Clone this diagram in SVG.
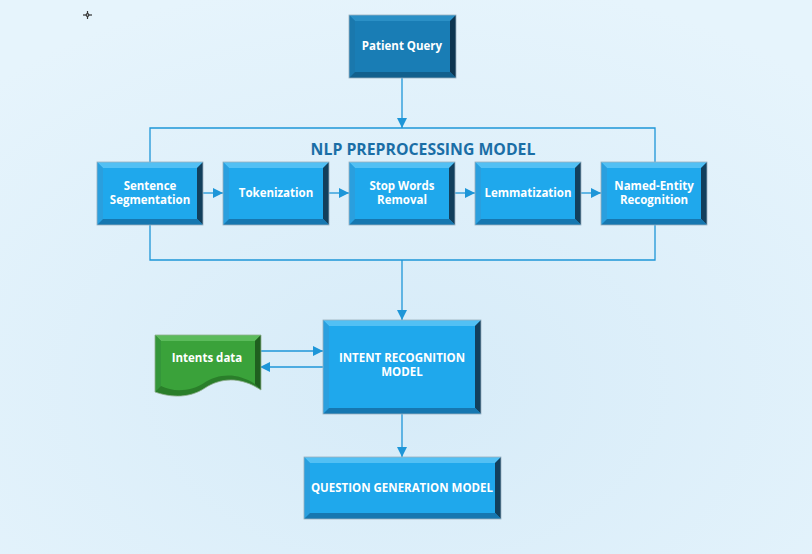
<svg xmlns="http://www.w3.org/2000/svg" width="812" height="554" viewBox="0 0 812 554">
<defs>
<radialGradient id="bg" cx="0.5" cy="0.7" r="0.75">
<stop offset="0" stop-color="#d6ebf8"/>
<stop offset="1" stop-color="#e6f4fc"/>
</radialGradient>
<marker id="ah" viewBox="0 0 10 10" refX="10" refY="5" markerWidth="10" markerHeight="10" markerUnits="userSpaceOnUse" orient="auto">
<path d="M0,0 L10,5 L0,10 z" fill="#1e96d8"/>
</marker>
<style>
.ln{fill:none;stroke:#1e96d8;stroke-width:1.3}
.c{fill:#1fa8ec}
.t{fill:#52c0f4}
.l{fill:#2a9fde}
.r{fill:#123f5c}
.b{fill:#1677b0}
.o{fill:none;stroke:#9bb0bd;stroke-width:0.8}
.pc{fill:#197db5}
.pt{fill:#2b90c6}
.pl{fill:#1a78ad}
.pr{fill:#0d3550}
.pb{fill:#12608d}
.gc{fill:#3aa23a}
.gt{fill:#5bbb5b}
.gr{fill:#1f5f1f}
.gb{fill:#2a7e2a}
.tx{font-family:"Open Sans","Liberation Sans",sans-serif;font-weight:bold;font-size:11.5px;fill:#ffffff;text-anchor:middle}
.ti{font-family:"Open Sans","Liberation Sans",sans-serif;font-weight:bold;font-size:15.8px;fill:#1a6ea6;text-anchor:middle}
</style>
</defs>
<rect width="812" height="554" fill="url(#bg)"/>
<g id="cursor" stroke="#333" stroke-width="1.2" fill="none">
<line x1="83" y1="15" x2="86" y2="15"/><line x1="89" y1="15" x2="92" y2="15"/>
<line x1="87.5" y1="11" x2="87.5" y2="13.5"/><line x1="87.5" y1="16.5" x2="87.5" y2="19"/>
<circle cx="87.5" cy="15" r="1.3"/>
</g>
<g id="connectors">
<path class="ln" d="M150,162 V128 H655 V162"/>
<path class="ln" d="M150,225 V260 H655 V225"/>
<line class="ln" x1="402" y1="78" x2="402" y2="128" marker-end="url(#ah)"/>
<line class="ln" x1="202" y1="193" x2="223" y2="193" marker-end="url(#ah)"/>
<line class="ln" x1="328" y1="193" x2="349" y2="193" marker-end="url(#ah)"/>
<line class="ln" x1="454" y1="193" x2="475" y2="193" marker-end="url(#ah)"/>
<line class="ln" x1="580" y1="193" x2="601" y2="193" marker-end="url(#ah)"/>
<line class="ln" x1="402" y1="260" x2="402" y2="320" marker-end="url(#ah)"/>
<line class="ln" x1="260" y1="351" x2="323" y2="351" marker-end="url(#ah)"/>
<line class="ln" x1="323" y1="367" x2="260" y2="367" marker-end="url(#ah)"/>
<line class="ln" x1="402" y1="414" x2="402" y2="457" marker-end="url(#ah)"/>
</g>
<text class="ti" x="423" y="155">NLP PREPROCESSING MODEL</text>
<g id="patient-query">
<rect class="pc" x="349" y="15" width="107" height="63"/>
<path class="pt" d="M349,15 H456 L450,21 H355 z"/>
<path class="pl" d="M349,15 L355,21 V72 L349,78 z"/>
<path class="pr" d="M456,15 V78 L450,72 V21 z"/>
<path class="pb" d="M349,78 H456 L450,72 H355 z"/>
<rect class="o" x="349" y="15" width="107" height="63"/>
<text class="tx" x="402" y="50">Patient Query</text>
</g>
<g id="sentence-segmentation">
<rect class="c" x="97" y="162" width="106" height="63"/>
<path class="t" d="M97,162 H203 L197,168 H103 z"/>
<path class="l" d="M97,162 L103,168 V219 L97,225 z"/>
<path class="r" d="M203,162 V225 L197,219 V168 z"/>
<path class="b" d="M97,225 H203 L197,219 H103 z"/>
<rect class="o" x="97" y="162" width="106" height="63"/>
<text class="tx" x="150" y="190">Sentence</text>
<text class="tx" x="150" y="204">Segmentation</text>
</g>
<g id="tokenization">
<rect class="c" x="223" y="162" width="106" height="63"/>
<path class="t" d="M223,162 H329 L323,168 H229 z"/>
<path class="l" d="M223,162 L229,168 V219 L223,225 z"/>
<path class="r" d="M329,162 V225 L323,219 V168 z"/>
<path class="b" d="M223,225 H329 L323,219 H229 z"/>
<rect class="o" x="223" y="162" width="106" height="63"/>
<text class="tx" x="276" y="197">Tokenization</text>
</g>
<g id="stop-words-removal">
<rect class="c" x="349" y="162" width="106" height="63"/>
<path class="t" d="M349,162 H455 L449,168 H355 z"/>
<path class="l" d="M349,162 L355,168 V219 L349,225 z"/>
<path class="r" d="M455,162 V225 L449,219 V168 z"/>
<path class="b" d="M349,225 H455 L449,219 H355 z"/>
<rect class="o" x="349" y="162" width="106" height="63"/>
<text class="tx" x="402" y="190">Stop Words</text>
<text class="tx" x="402" y="204">Removal</text>
</g>
<g id="lemmatization">
<rect class="c" x="475" y="162" width="106" height="63"/>
<path class="t" d="M475,162 H581 L575,168 H481 z"/>
<path class="l" d="M475,162 L481,168 V219 L475,225 z"/>
<path class="r" d="M581,162 V225 L575,219 V168 z"/>
<path class="b" d="M475,225 H581 L575,219 H481 z"/>
<rect class="o" x="475" y="162" width="106" height="63"/>
<text class="tx" x="528" y="197">Lemmatization</text>
</g>
<g id="named-entity-recognition">
<rect class="c" x="601" y="162" width="106" height="63"/>
<path class="t" d="M601,162 H707 L701,168 H607 z"/>
<path class="l" d="M601,162 L607,168 V219 L601,225 z"/>
<path class="r" d="M707,162 V225 L701,219 V168 z"/>
<path class="b" d="M601,225 H707 L701,219 H607 z"/>
<rect class="o" x="601" y="162" width="106" height="63"/>
<text class="tx" x="654" y="190">Named-Entity</text>
<text class="tx" x="654" y="204">Recognition</text>
</g>
<g id="intent-recognition-model">
<rect class="c" x="323" y="320" width="158" height="94"/>
<path class="t" d="M323,320 H481 L475,326 H329 z"/>
<path class="l" d="M323,320 L329,326 V408 L323,414 z"/>
<path class="r" d="M481,320 V414 L475,408 V326 z"/>
<path class="b" d="M323,414 H481 L475,408 H329 z"/>
<rect class="o" x="323" y="320" width="158" height="94"/>
<text class="tx" x="402" y="362">INTENT RECOGNITION</text>
<text class="tx" x="402" y="376">MODEL</text>
</g>
<g id="intents-data">
<path class="gb" d="M155,335 H261 V390 C240,376 220,378 205,388 C190,398 172,398 155,392 z"/>
<path class="gc" d="M161,341 H255 V384 C236,372 218,374 204,383 C190,392 173,392 161,386 z"/>
<path class="gt" d="M155,335 H261 L255,341 H161 z"/>
<path class="gr" d="M261,335 V390 L255,384 V341 z"/>
<path d="M155,335 L161,341 V386 L155,392 z" fill="#34963a"/>
<path d="M155,335 H261 V390 C240,376 220,378 205,388 C190,398 172,398 155,392 z" fill="none" stroke="#8fae8f" stroke-width="0.8"/>
<text class="tx" x="207" y="362">Intents data</text>
</g>
<g id="question-generation-model">
<rect class="c" x="304" y="457" width="197" height="62"/>
<path class="t" d="M304,457 H501 L495,463 H310 z"/>
<path class="l" d="M304,457 L310,463 V513 L304,519 z"/>
<path class="r" d="M501,457 V519 L495,513 V463 z"/>
<path class="b" d="M304,519 H501 L495,513 H310 z"/>
<rect class="o" x="304" y="457" width="197" height="62"/>
<text class="tx" x="402" y="492">QUESTION GENERATION MODEL</text>
</g>
</svg>
